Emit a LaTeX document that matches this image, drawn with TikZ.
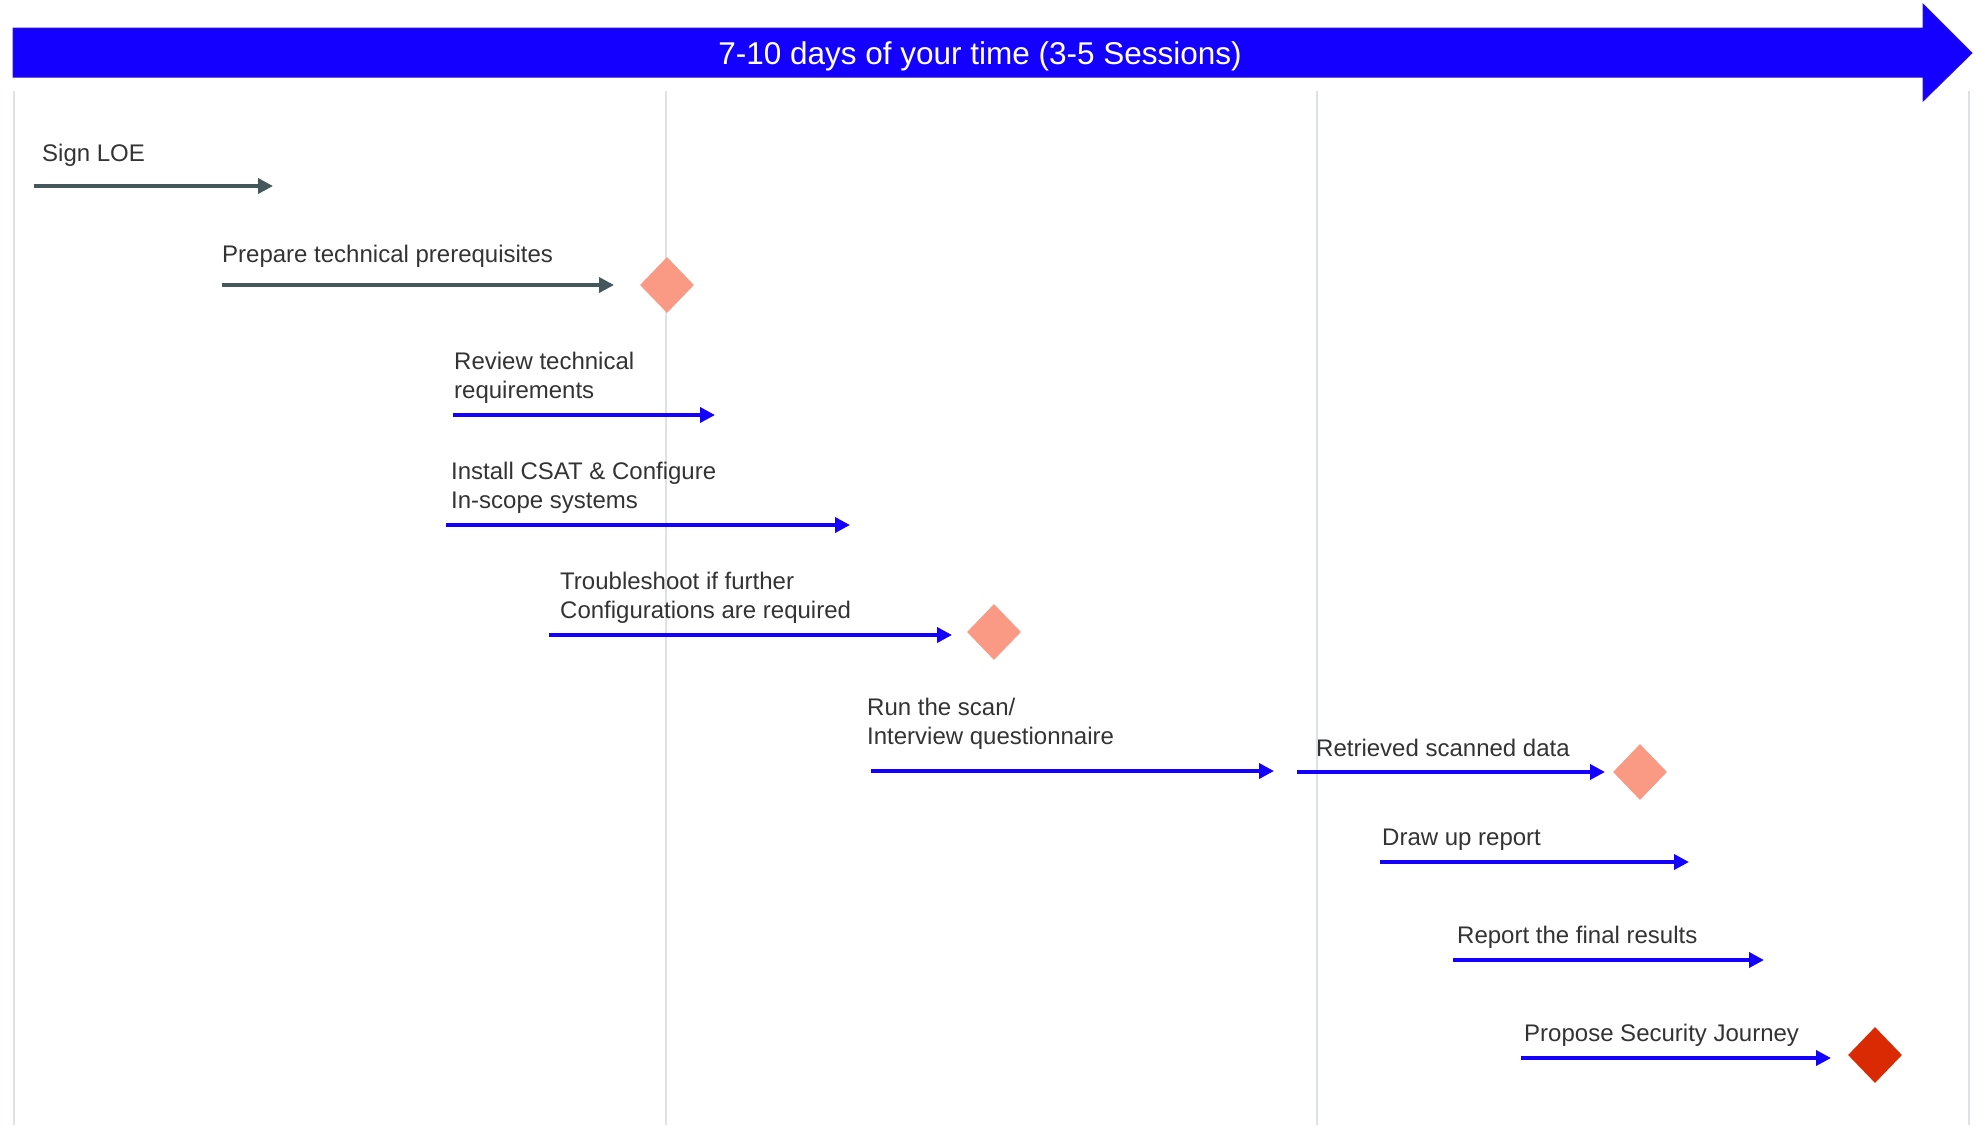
\documentclass[tikz,border=0pt]{standalone}
\usepackage{fontspec}
\setmainfont{Liberation Sans}
\usetikzlibrary{arrows.meta,shapes.geometric,positioning}

\definecolor{bannerblue}{HTML}{1400FF}
\definecolor{bannerline}{HTML}{2A10C8}
\definecolor{slate}{HTML}{44585C}
\definecolor{taskblue}{HTML}{1400FF}
\definecolor{salmon}{HTML}{FA9A85}
\definecolor{alertred}{HTML}{DA2A04}
\definecolor{gridgray}{HTML}{DDE2E5}
\definecolor{textgray}{HTML}{333333}

\tikzset{
  task/.style={anchor=south west, inner sep=0pt, text depth=5pt, align=left,
    text=textgray, font=\fontsize{24}{29}\selectfont},
  flow/.style={line width=3.6pt, draw=taskblue, -{Triangle[length=15pt,width=15pt]}},
  prepflow/.style={flow, draw=slate},
  milestone/.style={diamond, fill=salmon, minimum width=54pt, minimum height=56pt, inner sep=0pt},
  keymilestone/.style={milestone, fill=alertred},
}

\begin{document}
\begin{tikzpicture}[x=1pt, y=-1pt]
  \useasboundingbox (0,0) rectangle (1988,1125);
  % session grid
  \foreach \gx in {14,666,1317,1969}
    \draw[gridgray, line width=1.5pt] (\gx,91) -- (\gx,1125);
  % time banner
  \filldraw[fill=bannerblue, draw=bannerline, line width=1pt]
    (13,28) -- (1923,28) -- (1923,4) -- (1972,53) -- (1923,101) -- (1923,77) -- (13,77) -- cycle;
  \node[text=white, font=\fontsize{31.5}{36}\selectfont] (banner) at (980,56) {7-10 days of your time (3-5 Sessions)};
  % Define start and end points
  \coordinate (loeS) at (34,186);       \coordinate (loeE) at (273,186);
  \coordinate (prepS) at (222,285);     \coordinate (prepE) at (614,285);
  \coordinate (reviewS) at (453,415);   \coordinate (reviewE) at (715,415);
  \coordinate (installS) at (446,525);  \coordinate (installE) at (850,525);
  \coordinate (troubleS) at (549,635);  \coordinate (troubleE) at (952,635);
  \coordinate (scanS) at (871,771);     \coordinate (scanE) at (1274,771);
  \coordinate (dataS) at (1297,772);    \coordinate (dataE) at (1605,772);
  \coordinate (draftS) at (1380,862);   \coordinate (draftE) at (1689,862);
  \coordinate (reportS) at (1453,960);  \coordinate (reportE) at (1764,960);
  \coordinate (journeyS) at (1521,1058); \coordinate (journeyE) at (1831,1058);
  % milestones
  \node[milestone] (m1) at (667,285) {};
  \node[milestone] (m2) at (994,632) {};
  \node[milestone] (m3) at (1640,772) {};
  \node[keymilestone] (m4) at (1875,1055) {};
  % task labels
  \node[task, above right=19pt and 8pt of loeS] (loe) {Sign LOE};
  \node[task, above right=17pt and 0pt of prepS] (prep) {Prepare technical prerequisites};
  \node[task, above right=11pt and 1pt of reviewS] (review) {Review technical\\requirements};
  \node[task, above right=11pt and 5pt of installS] (install) {Install CSAT \& Configure\\In-scope systems};
  \node[task, above right=11pt and 11pt of troubleS] (trouble) {Troubleshoot if further\\Configurations are required};
  \node[task, above right=21pt and -4pt of scanS] (scan) {Run the scan/\\Interview questionnaire};
  \node[task, above right=10pt and 19pt of dataS] (data) {Retrieved scanned data};
  \node[task, above right=11pt and 2pt of draftS] (draft) {Draw up report};
  \node[task, above right=11pt and 4pt of reportS] (report) {Report the final results};
  \node[task, above right=11pt and 3pt of journeyS] (journey) {Propose Security Journey};
  % task arrows
  \draw[prepflow] (loeS) -- (loeE);
  \draw[prepflow] (prepS) -- (prepE);
  \draw[flow] (reviewS) -- (reviewE);
  \draw[flow] (installS) -- (installE);
  \draw[flow] (troubleS) -- (troubleE);
  \draw[flow] (scanS) -- (scanE);
  \draw[flow] (dataS) -- (dataE);
  \draw[flow] (draftS) -- (draftE);
  \draw[flow] (reportS) -- (reportE);
  \draw[flow] (journeyS) -- (journeyE);
\end{tikzpicture}
\end{document}
